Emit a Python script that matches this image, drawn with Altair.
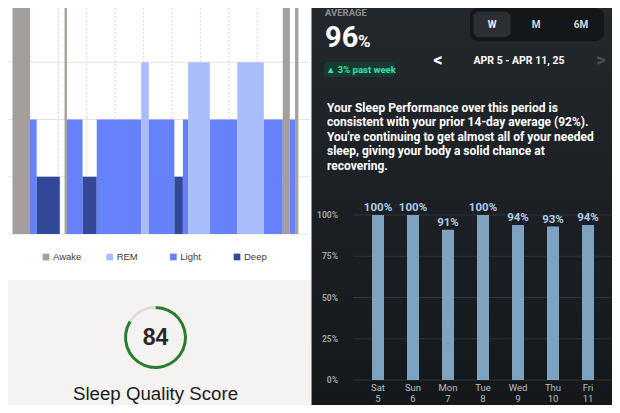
import altair as alt
import pandas as pd

# ---------------- data ----------------
stage_names = ["Awake", "REM", "Light", "Deep"]
stage_levels = [4, 3, 2, 1]
stage_colors = ["#a49f9a", "#a9bdfd", "#6682fb", "#34489a"]

# sleep stages, minutes after 22:00
seg_stage = ["Awake", "Light", "Deep", "Awake", "Light", "Deep", "Light", "REM", "Light",
             "Deep", "Light", "REM", "Light", "REM", "Light", "Awake", "Light", "Awake"]
seg_start = [23, 60, 74, 133, 138, 171, 201, 295, 311, 365, 383, 394, 440, 498, 554, 594, 609, 620]
seg_end = [60, 74, 123, 138, 171, 201, 295, 311, 365, 383, 394, 440, 498, 554, 594, 609, 620, 627]
hour_ticks = [60, 120, 180, 240, 300, 360, 420, 480, 540, 600]
level_ticks = [0, 1, 2, 3, 4]

score_parts = ["score", "rest"]
score_values = [84, 16]
score_colors = ["#2a7d2e", "#dddbd8"]

days = ["Sat", "Sun", "Mon", "Tue", "Wed", "Thu", "Fri"]
dates = ["5", "6", "7", "8", "9", "10", "11"]
performance = [100, 100, 91, 100, 94, 93, 94]
perf_ticks = [0, 25, 50, 75, 100]

summary_lines = [
    "Your Sleep Performance over this period is",
    "consistent with your prior 14-day average (92%).",
    "You're continuing to get almost all of your needed",
    "sleep, giving your body a solid chance at",
    "recovering.",
]

# ---------------- tables ----------------
lvl = dict(zip(stage_names, stage_levels))
seg_df = pd.DataFrame({"stage": seg_stage, "start": seg_start, "end": seg_end})
seg_df["level"] = seg_df["stage"].map(lvl)
hour_df = pd.DataFrame({"m": hour_ticks})
level_df = pd.DataFrame({"lvl": level_ticks})
legend_df = pd.DataFrame({"stage": stage_names})
score_df = pd.DataFrame({"part": score_parts, "v": score_values, "idx": [0, 1]})
perf_df = pd.DataFrame({"day": days, "date": dates, "perf": performance})
perf_tick_df = pd.DataFrame({"t": perf_ticks})
one = pd.DataFrame({"k": [0]})

RF = "Roboto"
LF = "Liberation Sans"
W, H = 604, 397

x_stage = alt.Scale(domain=[60, 600], range=[22, 277.6])
y_stage = alt.Scale(domain=[0, 4], range=[226, -3])
stage_color = alt.Color("stage:N", scale=alt.Scale(domain=stage_names, range=stage_colors), legend=None)
x_legend = alt.Scale(type="point", domain=stage_names, range=[38, 229], padding=0)
x_day = alt.Scale(type="point", domain=days, range=[370, 580], padding=0)
y_perf = alt.Scale(domain=[0, 100], range=[372, 207])


def label(s, x, y, size, color, weight="bold", align="left", baseline="middle", font=RF, **kw):
    return alt.Chart(one).mark_text(
        text=s, align=align, baseline=baseline, fontSize=size, fontWeight=weight,
        font=font, color=color, **kw
    ).encode(x=alt.value(x), y=alt.value(y))


def box(x, x2, y, y2, fill, radius=0):
    return alt.Chart(one).mark_rect(fill=fill, cornerRadius=radius).encode(
        x=alt.value(x), x2=alt.value(x2), y=alt.value(y), y2=alt.value(y2))


layers = []

# backgrounds
layers.append(alt.Chart(one).mark_rect(
    fill=alt.LinearGradient(gradient="linear",
                            stops=[alt.GradientStop(color="#23282d", offset=0),
                                   alt.GradientStop(color="#15181b", offset=1)],
                            x1=0, x2=0, y1=0, y2=1)
).encode(x=alt.value(303.5), x2=alt.value(W), y=alt.value(0), y2=alt.value(H)))
layers.append(box(0, 303, 272, H, "#f4f3f1"))

# ----- sleep stage chart -----
layers.append(alt.Chart(level_df).mark_rule(color="#e3e3e3", strokeWidth=1).encode(
    y=alt.Y("lvl:Q", scale=y_stage, axis=None), x=alt.value(0), x2=alt.value(302)))
layers.append(alt.Chart(hour_df).mark_rule(color="#d9d9d9", strokeWidth=1, strokeDash=[2, 2]).encode(
    x=alt.X("m:Q", scale=x_stage, axis=None), y=alt.value(0), y2=alt.value(226)))
layers.append(alt.Chart(seg_df).mark_rect().encode(
    x=alt.X("start:Q", scale=x_stage, axis=None), x2="end:Q",
    y=alt.Y("level:Q", scale=y_stage, axis=None), y2=alt.datum(0),
    color=stage_color))

# legend
layers.append(alt.Chart(legend_df).mark_square(size=45, opacity=1).encode(
    x=alt.X("stage:N", scale=x_legend, axis=None), y=alt.value(249), color=stage_color))
layers.append(alt.Chart(legend_df).mark_text(
    align="left", baseline="middle", dx=7, fontSize=9.5, font=LF, color="#3b3b3b").encode(
    x=alt.X("stage:N", scale=x_legend, axis=None), y=alt.value(249), text="stage:N"))

# score ring
layers.append(alt.Chart(score_df).mark_arc(outerRadius=31.5, innerRadius=28.5).encode(
    theta=alt.Theta("v:Q", stack=True),
    color=alt.Color("part:N", scale=alt.Scale(domain=score_parts, range=score_colors), legend=None),
    order=alt.Order("idx:Q"),
    x=alt.value(147.5), y=alt.value(329.5)))
layers.append(label(str(score_values[0]), 147.5, 330, 23, "#2b2825", align="center", font=LF))
layers.append(label("Sleep Quality Score", 147.5, 386, 18.7, "#1b1b1b", weight="normal",
                    align="center", font=LF))

# ----- right panel header -----
layers.append(label("AVERAGE", 317, 5, 9.5, "#8a8f95"))
layers.append(label("96", 317, 39, 29, "#ffffff", baseline="alphabetic"))
layers.append(label("%", 350, 39, 17, "#ffffff", baseline="alphabetic"))
layers.append(box(316, 387, 54, 69, "#173b32", 3))
layers.append(label("▲ 3% past week", 318, 61.5, 9.5, "#35e2a2"))

layers.append(box(462, 596, 0, 33, "#14171a", 8))
layers.append(box(465.3, 502.7, 3.7, 29.3, "#2a2f34", 6))
layers.append(label("W", 484, 17, 10, "#f0f0f0", align="center"))
layers.append(label("M", 528, 17, 10, "#d8d8d8", align="center"))
layers.append(label("6M", 573, 17, 10, "#d8d8d8", align="center"))
layers.append(label("<", 430, 53, 18, "#ffffff", align="center"))
layers.append(label("APR 5 - APR 11, 25", 511, 53, 10.5, "#ffffff", align="center"))
layers.append(label(">", 593, 53, 18, "#4a4f55", align="center"))

layers.append(label("\n".join(summary_lines), 319, 99.5, 12, "#ffffff",
                    lineBreak="\n", lineHeight=14.6))

# ----- performance bar chart -----
layers.append(alt.Chart(perf_tick_df).mark_rule(color="#2f3439", strokeWidth=1).encode(
    y=alt.Y("t:Q", scale=y_perf, axis=None), x=alt.value(345), x2=alt.value(W)))
layers.append(alt.Chart(perf_tick_df).transform_calculate(lab="datum.t + '%'").mark_text(
    align="right", baseline="middle", fontSize=8.5, fontWeight="bold", font=RF, color="#9fa4a9").encode(
    y=alt.Y("t:Q", scale=y_perf, axis=None), x=alt.value(330), text="lab:N"))
layers.append(alt.Chart(perf_df).mark_bar(width=12, color="#7ea3c0").encode(
    x=alt.X("day:N", scale=x_day, axis=None),
    y=alt.Y("perf:Q", scale=y_perf, axis=None), y2=alt.datum(0)))
layers.append(alt.Chart(perf_df).transform_calculate(lab="datum.perf + '%'").mark_text(
    align="center", baseline="bottom", dy=-2, fontSize=11.5, fontWeight="bold", font=RF, color="#a9cde8").encode(
    x=alt.X("day:N", scale=x_day, axis=None),
    y=alt.Y("perf:Q", scale=y_perf, axis=None), text="lab:N"))
layers.append(alt.Chart(perf_df).transform_calculate(lab="datum.day + '\\n' + datum.date").mark_text(
    align="center", baseline="top", fontSize=9.5, font=RF, color="#b9bdc1",
    lineBreak="\n", lineHeight=11).encode(
    x=alt.X("day:N", scale=x_day, axis=None), y=alt.value(375), text="lab:N"))

chart = alt.layer(*layers).resolve_scale(
    x="independent", y="independent", color="independent"
).properties(
    width=W, height=H, autosize=alt.AutoSizeParams(type="none"), padding=0,
    background="#ffffff"
).configure_view(stroke=None)

chart.save("out.html", embed_options={"renderer": "svg", "actions": False})
